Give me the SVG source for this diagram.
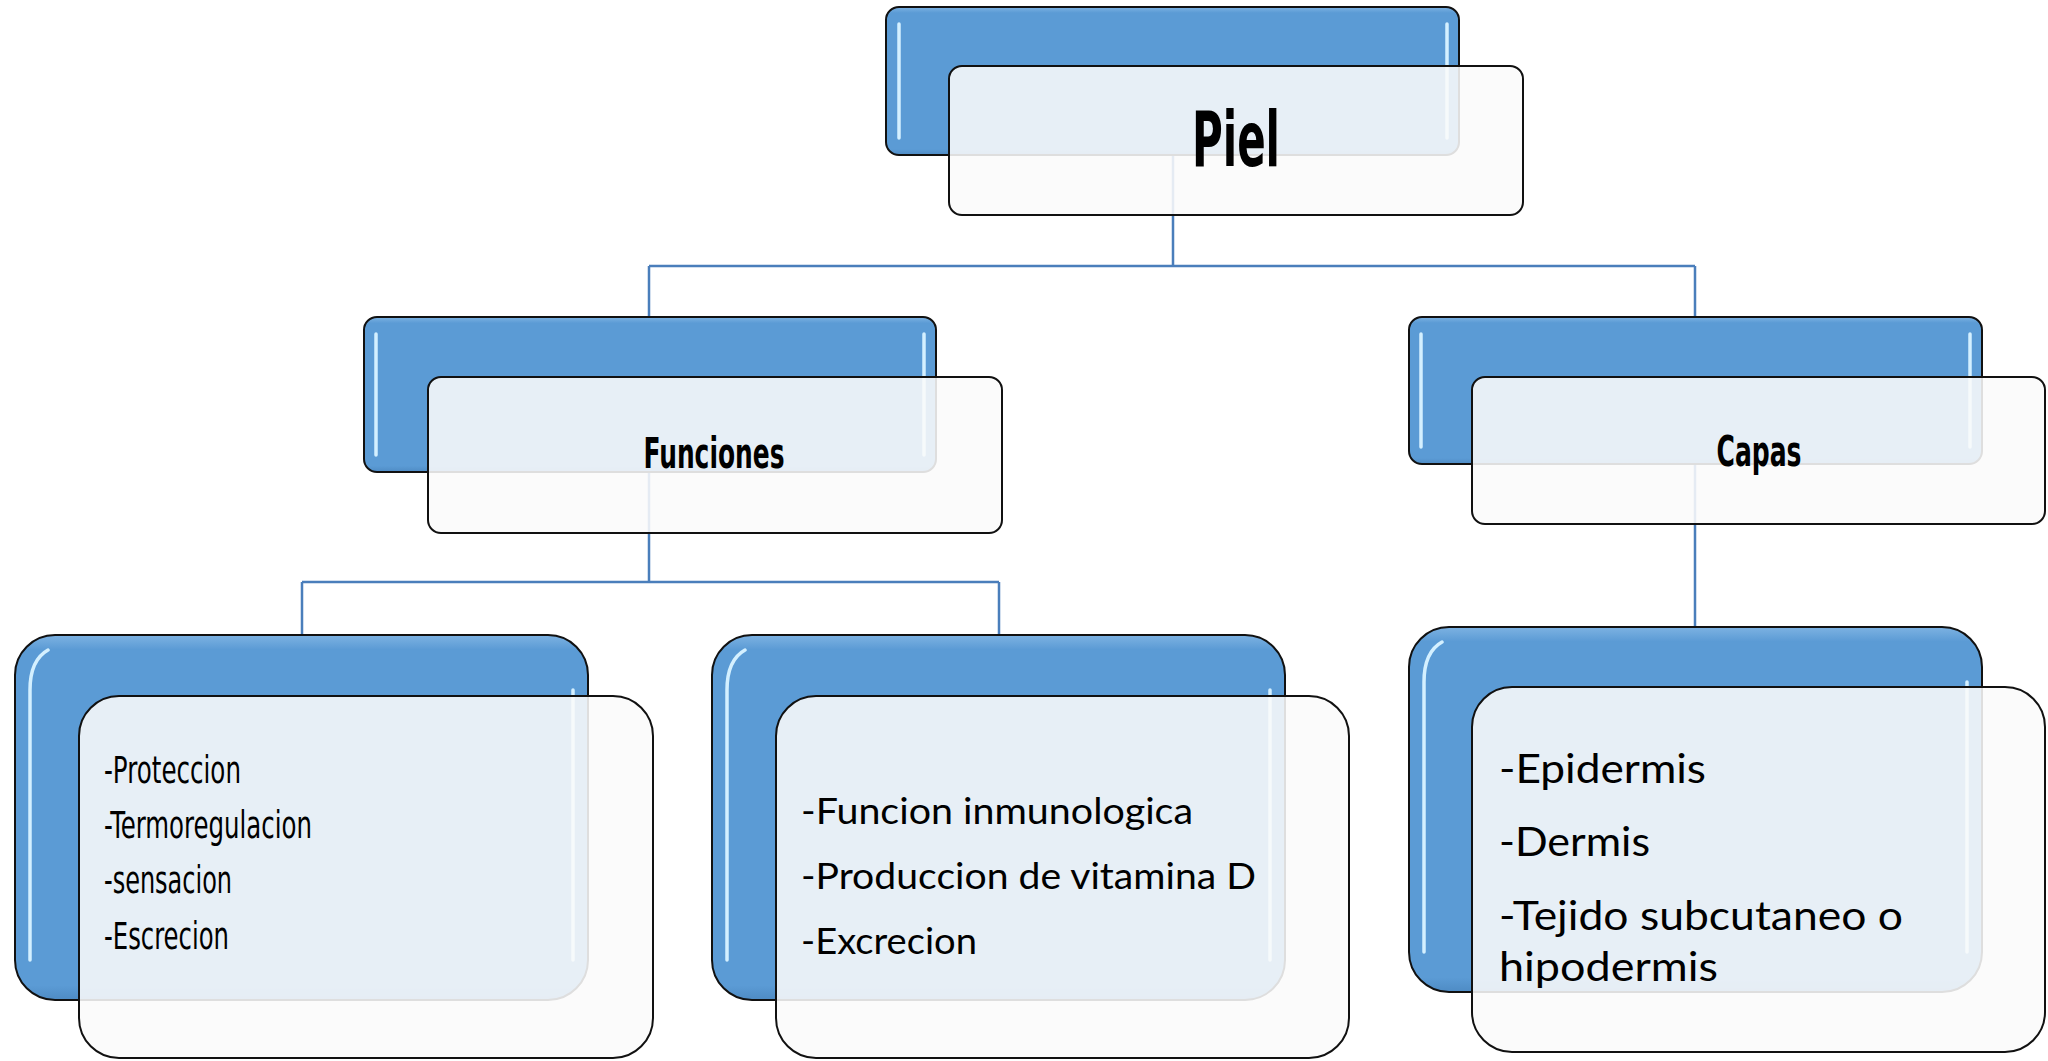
<svg xmlns="http://www.w3.org/2000/svg" width="2048" height="1061" viewBox="0 0 2048 1061">
<defs>
<linearGradient id="blueGrad" x1="0" y1="0" x2="0" y2="1">
<stop offset="0" stop-color="#7DB2E2"/>
<stop offset="0.04" stop-color="#5B9BD5"/>
<stop offset="0.96" stop-color="#5B9BD5"/>
<stop offset="1" stop-color="#4E8BC4"/>
</linearGradient>
<style>
.conn{fill:none;stroke:#4A7EBB;stroke-width:2.5}
.blue{fill:url(#blueGrad);stroke:#111;stroke-width:2}
.white{fill:#FAFAFA;fill-opacity:0.88;stroke:#111;stroke-width:2}
.hl{fill:none;stroke:#D4F0FF;stroke-width:3.5;stroke-linecap:round}
.title{font-family:"DejaVu Sans Condensed","DejaVu Sans",sans-serif;font-weight:bold;fill:#000;text-anchor:middle}
.agency{font-family:"DejaVu Sans Condensed","DejaVu Sans",sans-serif;font-size:37px;fill:#000}
.cal{font-family:Lato,"Liberation Sans",sans-serif;fill:#000}
</style>
</defs>
<rect width="2048" height="1061" fill="#FFFFFF"/>
<g id="connectors">
<path class="conn" d="M1173 80 V266 M649 266 H1695 M649 266 V394 M1695 266 V390"/>
<path class="conn" d="M649 400 V582 M302 582 H999 M302 582 V660 M999 582 V660"/>
<path class="conn" d="M1695 400 V660"/>
</g>
<g id="node-piel">
<rect class="blue" x="886" y="7" width="573" height="148" rx="13"/>
<path class="hl" d="M899 24 V138 M1447 24 V138"/>
<rect class="white" x="949" y="66" width="574" height="149" rx="13"/>
<text class="title" x="1236" y="166" font-size="77" textLength="88" lengthAdjust="spacingAndGlyphs">Piel</text>
</g>
<g id="node-funciones">
<rect class="blue" x="364" y="317" width="572" height="155" rx="13"/>
<path class="hl" d="M376 334 V455 M924 334 V455"/>
<rect class="white" x="428" y="377" width="574" height="156" rx="13"/>
<text class="title" x="714" y="468" font-size="42" textLength="141" lengthAdjust="spacingAndGlyphs">Funciones</text>
</g>
<g id="node-capas">
<rect class="blue" x="1409" y="317" width="573" height="147" rx="13"/>
<path class="hl" d="M1421 334 V447 M1970 334 V447"/>
<rect class="white" x="1472" y="377" width="573" height="147" rx="13"/>
<text class="title" x="1759" y="466" font-size="43" textLength="85" lengthAdjust="spacingAndGlyphs">Capas</text>
</g>
<g id="node-lista-funciones-1">
<rect class="blue" x="15" y="635" width="573" height="365" rx="40"/>
<path class="hl" d="M30 960 V690 Q30 660 48 650 M573 960 V690"/>
<rect class="white" x="79" y="696" width="574" height="362" rx="40"/>
<text class="agency" x="104" y="783" textLength="137" lengthAdjust="spacingAndGlyphs">-Proteccion</text>
<text class="agency" x="104" y="838" textLength="208" lengthAdjust="spacingAndGlyphs">-Termoregulacion</text>
<text class="agency" x="104" y="893" textLength="128" lengthAdjust="spacingAndGlyphs">-sensacion</text>
<text class="agency" x="104" y="949" textLength="125" lengthAdjust="spacingAndGlyphs">-Escrecion</text>
</g>
<g id="node-lista-funciones-2">
<rect class="blue" x="712" y="635" width="573" height="365" rx="40"/>
<path class="hl" d="M727 960 V690 Q727 660 745 650 M1270 960 V690"/>
<rect class="white" x="776" y="696" width="573" height="362" rx="40"/>
<text class="cal" x="801" y="824" font-size="37" textLength="392" lengthAdjust="spacingAndGlyphs">-Funcion inmunologica</text>
<text class="cal" x="801" y="889" font-size="37" textLength="455" lengthAdjust="spacingAndGlyphs">-Produccion de vitamina D</text>
<text class="cal" x="801" y="954" font-size="37" textLength="176" lengthAdjust="spacingAndGlyphs">-Excrecion</text>
</g>
<g id="node-lista-capas">
<rect class="blue" x="1409" y="627" width="573" height="365" rx="40"/>
<path class="hl" d="M1424 952 V682 Q1424 652 1442 642 M1967 952 V682"/>
<rect class="white" x="1472" y="687" width="573" height="365" rx="40"/>
<text class="cal" x="1499" y="783" font-size="40" textLength="207" lengthAdjust="spacingAndGlyphs">-Epidermis</text>
<text class="cal" x="1499" y="856" font-size="40" textLength="151" lengthAdjust="spacingAndGlyphs">-Dermis</text>
<text class="cal" x="1499" y="930" font-size="40" textLength="404" lengthAdjust="spacingAndGlyphs">-Tejido subcutaneo o</text>
<text class="cal" x="1499" y="981" font-size="40" textLength="219" lengthAdjust="spacingAndGlyphs">hipodermis</text>
</g>
</svg>
